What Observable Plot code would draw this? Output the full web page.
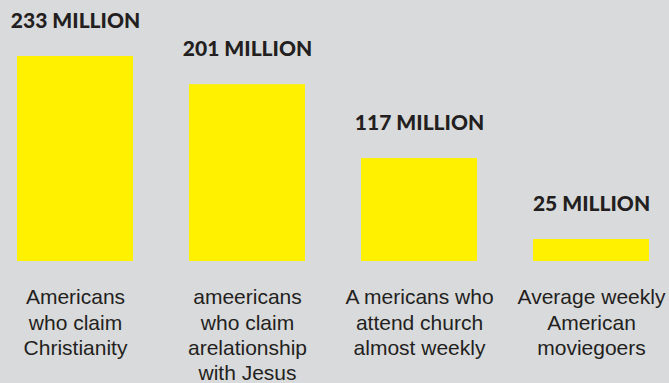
<!DOCTYPE html>
<html>
<head>
<meta charset="utf-8">
<script src="https://cdn.jsdelivr.net/npm/d3@7"></script>
<script src="https://cdn.jsdelivr.net/npm/@observablehq/plot@0.6"></script>
<style>
  html, body { margin: 0; padding: 0; background: #d9dadc; }
  #chart svg { display: block; }
</style>
</head>
<body>
<div id="chart"></div>
<script>
const categories = [
  "Americans\nwho claim\nChristianity",
  "ameericans\nwho claim\narelationship\nwith Jesus",
  "A mericans who\nattend church\nalmost weekly",
  "Average weekly\nAmerican\nmoviegoers"
];
const valuesMillions = [233, 201, 117, 25];
const valueLabels = ["233 MILLION", "201 MILLION", "117 MILLION", "25 MILLION"];

const data = categories.map((c, i) => ({ category: c, value: valuesMillions[i], label: valueLabels[i] }));

const chart = Plot.plot({
  width: 669,
  height: 383,
  marginLeft: 17,
  marginRight: 20,
  marginTop: 56,
  marginBottom: 122,
  style: { background: "#d9dadc", overflow: "visible" },
  x: { domain: categories, paddingInner: 0.326, paddingOuter: 0, axis: null },
  y: { domain: [0, 233], axis: null },
  marks: [
    Plot.barY(data, { x: "category", y: "value", fill: "#fff100" }),
    Plot.text(data, {
      x: "category", y: "value", text: "label",
      lineAnchor: "bottom", dy: -29,
      fontFamily: "Lato", fontWeight: 900, fontSize: 21,
      fill: "#231f20"
    }),
    Plot.text(data, {
      x: "category", y: () => 0, text: "category",
      lineAnchor: "top", dy: 25, lineHeight: 1.2,
      fontFamily: "Liberation Sans", fontSize: 21,
      fill: "#231f20"
    })
  ]
});
document.getElementById("chart").appendChild(chart);
</script>
</body>
</html>
